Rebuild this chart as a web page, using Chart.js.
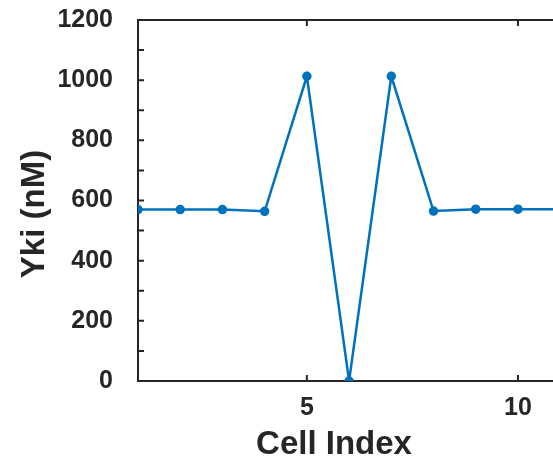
<!DOCTYPE html>
<html>
<head>
<meta charset="utf-8">
<script src="https://cdn.jsdelivr.net/npm/chart.js@4/dist/chart.umd.min.js"></script>
<style>
  body { margin: 0; background: #fff; }
  canvas { display: block; }
</style>
</head>
<body>
<canvas id="grafico" width="553" height="460"></canvas>
<script>
const celulas = [1, 2, 3, 4, 5, 6, 7, 8, 9, 10, 11];
const yki = [570, 570, 570, 564, 1013, 0, 1013, 565, 571, 571, 571];
const xTicks = [5, 10];
const yTicks = [0, 100, 200, 300, 400, 500, 600, 700, 800, 900, 1000, 1100, 1200];
const yLabels = [0, 200, 400, 600, 800, 1000, 1200];

const corEixo = '#262626';
const fonte = 'Liberation Sans, Arial, Helvetica, sans-serif';

// ticks para dentro, linha de cima e titulos dos eixos
const eixosPlugin = {
    id: 'eixos',
    afterDraw(chart) {
        const { ctx, chartArea, scales } = chart;
        const x = scales.x;
        const y = scales.y;
        ctx.save();
        ctx.strokeStyle = corEixo;
        ctx.lineWidth = 2;

        ctx.beginPath();
        ctx.moveTo(chartArea.left - 1, chartArea.top);
        ctx.lineTo(chart.width, chartArea.top);
        ctx.stroke();

        ctx.beginPath();
        yTicks.forEach(v => {
            const py = y.getPixelForValue(v);
            ctx.moveTo(chartArea.left, py);
            ctx.lineTo(chartArea.left + 6, py);
        });
        xTicks.forEach(v => {
            const px = x.getPixelForValue(v);
            ctx.moveTo(px, chartArea.bottom);
            ctx.lineTo(px, chartArea.bottom - 6);
            ctx.moveTo(px, chartArea.top);
            ctx.lineTo(px, chartArea.top + 6);
        });
        ctx.stroke();

        ctx.fillStyle = corEixo;
        ctx.font = 'bold 33px ' + fonte;
        ctx.textAlign = 'center';
        ctx.textBaseline = 'alphabetic';
        ctx.fillText('Cell Index', 334, 454);

        ctx.save();
        ctx.translate(44, 214);
        ctx.rotate(-Math.PI / 2);
        ctx.font = 'bold 33px ' + fonte;
        ctx.fillText('Yki (nM)', 0, 0);
        ctx.restore();

        ctx.restore();
    }
};

new Chart(document.getElementById('grafico'), {
    type: 'line',
    data: {
        labels: celulas,
        datasets: [{
            data: celulas.map((c, i) => ({ x: c, y: yki[i] })),
            borderColor: '#0072BD',
            backgroundColor: '#0072BD',
            borderWidth: 2.5,
            pointRadius: 3.5,
            pointHoverRadius: 3.5,
            tension: 0
        }]
    },
    options: {
        responsive: false,
        animation: false,
        layout: { autoPadding: false, padding: { top: 20, right: 0 } },
        plugins: {
            legend: { display: false },
            tooltip: { enabled: false }
        },
        scales: {
            x: {
                type: 'linear',
                min: 1,
                max: 10.83,
                afterBuildTicks: (scale) => { scale.ticks = xTicks.map(v => ({ value: v })); },
                afterFit: (scale) => {
                    scale.height = 79;
                    scale.paddingLeft = 0;
                    scale.paddingRight = 0;
                },
                grid: { display: false, drawTicks: false },
                border: { display: true, color: corEixo, width: 2 },
                ticks: {
                    color: corEixo,
                    padding: 12,
                    maxRotation: 0,
                    callback: (v) => String(v),
                    font: { family: fonte, size: 25, weight: 'bold' }
                }
            },
            y: {
                min: 0,
                max: 1200,
                afterBuildTicks: (scale) => { scale.ticks = yLabels.map(v => ({ value: v })); },
                afterFit: (scale) => {
                    scale.width = 138;
                    scale.paddingTop = 0;
                    scale.paddingBottom = 0;
                },
                grid: { display: false, drawTicks: false },
                border: { display: true, color: corEixo, width: 2 },
                ticks: {
                    color: corEixo,
                    padding: 25,
                    callback: (v) => String(v),
                    font: { family: fonte, size: 25, weight: 'bold' }
                }
            }
        }
    },
    plugins: [eixosPlugin]
});
</script>
</body>
</html>
